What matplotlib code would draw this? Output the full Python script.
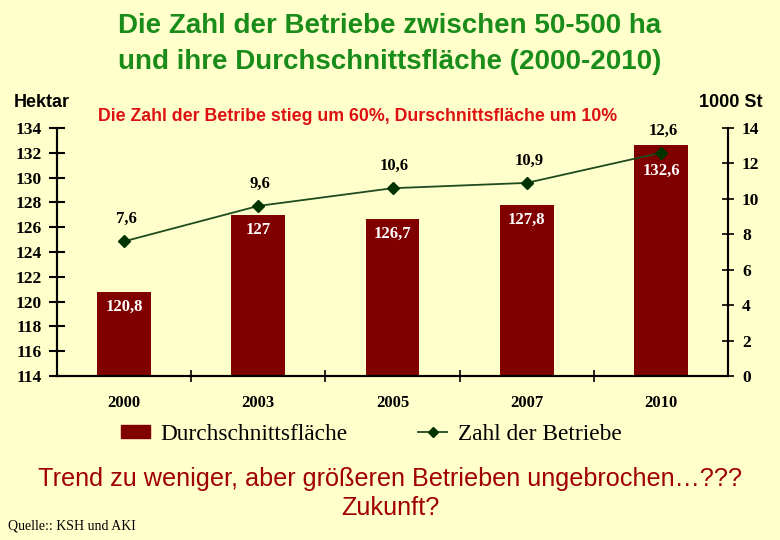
import numpy as np
import matplotlib.pyplot as plt
from matplotlib.lines import Line2D
from matplotlib.patches import Patch

# --- Data ---
years = ["2000", "2003", "2005", "2007", "2010"]
avg_area = [120.8, 127.0, 126.7, 127.8, 132.6]      # Hektar (bars)
farm_count = [7.6, 9.6, 10.6, 10.9, 12.6]           # 1000 St (line)
area_labels = ["120,8", "127", "126,7", "127,8", "132,6"]
count_labels = ["7,6", "9,6", "10,6", "10,9", "12,6"]

# --- Style ---
BG = "#FFFFCC"
BAR_COLOR = "#800000"
LINE_COLOR = "#1E4A1E"
MARKER_COLOR = "#003300"
TITLE_GREEN = "#1A8C1A"
RED = "#DD1111"
DARK_RED = "#A00000"
SERIF = ["Liberation Serif", "DejaVu Serif"]
SANS = ["Liberation Sans", "DejaVu Sans"]

fig = plt.figure(figsize=(7.8, 5.4), dpi=100, facecolor=BG)
ax = fig.add_axes([0.0731, 0.3037, 0.8603, 0.4593])
ax.set_facecolor(BG)

x = np.arange(len(years))
ax.bar(x, avg_area, width=0.4, color=BAR_COLOR, zorder=2)
ax.set_xlim(-0.5, len(years) - 0.5)
ax.set_ylim(114, 134)
ax.set_yticks(np.arange(114, 135, 2))

ax2 = ax.twinx()
ax2.plot(x, farm_count, color=LINE_COLOR, lw=1.3, marker="D", ms=6,
         mfc=MARKER_COLOR, mec=MARKER_COLOR, zorder=3)
ax2.set_ylim(0, 14)
ax2.set_yticks(np.arange(0, 15, 2))

for a in (ax, ax2):
    a.spines["top"].set_visible(False)
    for s in a.spines.values():
        s.set_linewidth(1.5)

# x ticks at category boundaries, labels at centres
ax.set_xticks(np.arange(0.5, len(years) - 0.5, 1.0))
ax.set_xticklabels([])
ax.set_xticks(x, minor=True)
ax.set_xticklabels(years, minor=True, fontfamily=SERIF, fontweight="bold", fontsize=12)
ax.tick_params(axis="x", which="major", direction="inout", length=8, width=1.2)
ax.tick_params(axis="x", which="minor", length=0, pad=14)

ax.tick_params(axis="y", direction="inout", length=12, width=1.5, pad=5)
ax2.tick_params(axis="y", direction="inout", length=8, width=1.2, pad=6)
for lab in ax.get_yticklabels() + ax2.get_yticklabels():
    lab.set_fontfamily(SERIF)
    lab.set_fontweight("bold")
    lab.set_fontsize(12.5)

# data labels
bar_offsets = [-15, -15, -15, -15, -26]
for xi, v, t, off in zip(x, avg_area, area_labels, bar_offsets):
    ax.annotate(t, (xi, v), xytext=(0, off), textcoords="offset pixels",
                ha="center", va="center", color="white", fontweight="bold",
                fontfamily=SERIF, fontsize=12, zorder=4)
for xi, v, t in zip(x, farm_count, count_labels):
    ax2.annotate(t, (xi, v), xytext=(2, 22), textcoords="offset pixels",
                 ha="center", va="center", color="black", fontweight="bold",
                 fontfamily=SERIF, fontsize=12)

# titles and texts
fig.text(0.5, 0.951, "Die Zahl der Betriebe zwischen 50-500 ha", ha="center", va="center",
         color=TITLE_GREEN, fontsize=20, fontweight="bold", fontfamily=SANS)
fig.text(0.5, 0.886, "und ihre Durchschnittsfläche (2000-2010)", ha="center", va="center",
         color=TITLE_GREEN, fontsize=20, fontweight="bold", fontfamily=SANS)
fig.text(0.459, 0.785, "Die Zahl der Betribe stieg um 60%, Durschnittsfläche um 10%",
         ha="center", va="center", color=RED, fontsize=12.8, fontweight="bold", fontfamily=SANS)
fig.text(0.018, 0.811, "Hektar", ha="left", va="center", fontsize=13,
         fontweight="bold", fontfamily=SANS)
fig.text(0.977, 0.811, "1000 St", ha="right", va="center", fontsize=13,
         fontweight="bold", fontfamily=SANS)

handles = [Patch(facecolor=BAR_COLOR, edgecolor=BAR_COLOR),
           Line2D([0], [0], color=LINE_COLOR, lw=1.3, marker="D", ms=5,
                  mfc=MARKER_COLOR, mec=MARKER_COLOR)]
fig.legend(handles, ["Durchschnittsfläche", "Zahl der Betriebe"], loc="center",
           bbox_to_anchor=(0.476, 0.196), ncol=2, frameon=False, columnspacing=3,
           handlelength=1.25, handleheight=0.45, handletextpad=0.45,
           prop={"family": SERIF, "size": 16.8})

fig.text(0.5, 0.113, "Trend zu weniger, aber größeren Betrieben ungebrochen…???",
         ha="center", va="center", color=DARK_RED, fontsize=18.2, fontfamily=SANS)
fig.text(0.5, 0.060, "Zukunft?", ha="center", va="center", color=DARK_RED,
         fontsize=18.2, fontfamily=SANS)
fig.text(0.01, 0.026, "Quelle:: KSH und AKI", ha="left", va="center",
         fontsize=10, fontfamily=SERIF)

fig.savefig("out.png", dpi=100, facecolor=BG)
